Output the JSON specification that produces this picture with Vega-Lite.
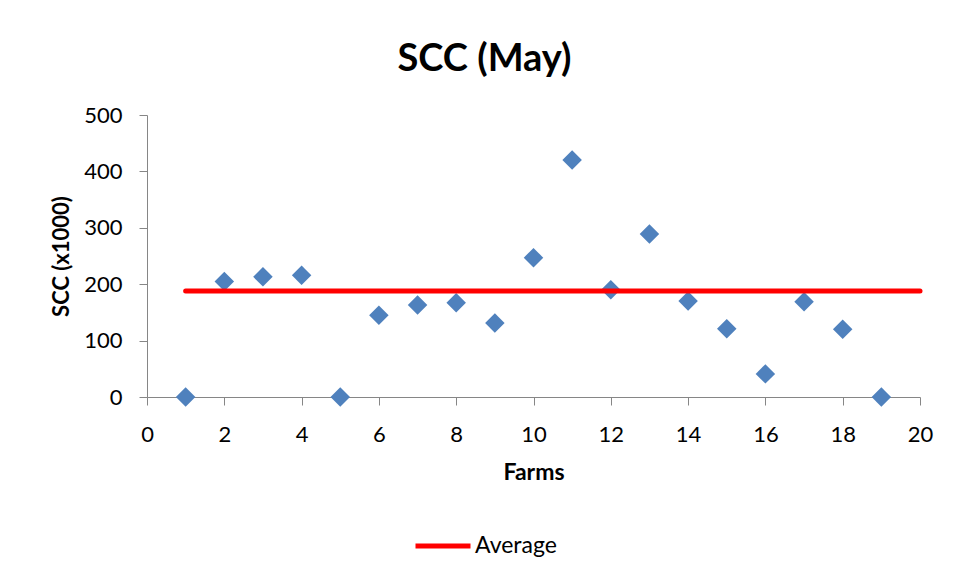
{
  "$schema": "https://vega.github.io/schema/vega-lite/v6.json",
  "autosize": "none",
  "width": 773,
  "height": 282,
  "padding": {"left": 147, "top": 115, "right": 33, "bottom": 180},
  "background": "white",
  "config": {
    "view": {"stroke": null},
    "font": "Lato",
    "axis": {"grid": false, "domainColor": "#868686", "tickColor": "#868686", "tickSize": 8, "labelColor": "#000000", "titleColor": "#000000", "labelFont": "Lato", "titleFont": "Lato"}
  },
  "title": {"text": "SCC (May)", "fontSize": 38, "fontWeight": "bold", "font": "Lato", "color": "#000000", "anchor": "middle", "dx": -49, "offset": 25},
  "datasets": {
    "scc": [
      {"farm": 1, "scc": 0},
      {"farm": 2, "scc": 205},
      {"farm": 3, "scc": 213},
      {"farm": 4, "scc": 216},
      {"farm": 5, "scc": 0},
      {"farm": 6, "scc": 145},
      {"farm": 7, "scc": 163},
      {"farm": 8, "scc": 167},
      {"farm": 9, "scc": 131},
      {"farm": 10, "scc": 247},
      {"farm": 11, "scc": 420},
      {"farm": 12, "scc": 190},
      {"farm": 13, "scc": 289},
      {"farm": 14, "scc": 170},
      {"farm": 15, "scc": 121},
      {"farm": 16, "scc": 41},
      {"farm": 17, "scc": 169},
      {"farm": 18, "scc": 120},
      {"farm": 19, "scc": 0}
    ],
    "avg": [
      {"farm": 1, "scc": 188, "series": "Average"},
      {"farm": 20, "scc": 188, "series": "Average"}
    ]
  },
  "layer": [
    {
      "data": {"name": "scc"},
      "mark": {"type": "point", "shape": "diamond", "filled": true, "size": 380, "color": "#4F81BD", "opacity": 1},
      "encoding": {
        "x": {"field": "farm", "type": "quantitative", "scale": {"domain": [0, 20], "nice": false}, "axis": {"values": [0,2,4,6,8,10,12,14,16,18,20], "title": "Farms", "labelFontSize": 22, "titleFontSize": 23, "titleFontWeight": "bold", "labelPadding": 19, "titlePadding": 16, "labelFlush": false}},
        "y": {"field": "scc", "type": "quantitative", "scale": {"domain": [0, 500], "nice": false}, "axis": {"values": [0,100,200,300,400,500], "title": "SCC (x1000)", "labelFontSize": 22, "titleFontSize": 22, "titleFontWeight": "bold", "labelPadding": 17, "titlePadding": 10}}
      }
    },
    {
      "data": {"name": "avg"},
      "mark": {"type": "line", "strokeWidth": 5, "strokeCap": "round"},
      "encoding": {
        "x": {"field": "farm", "type": "quantitative"},
        "y": {"field": "scc", "type": "quantitative"},
        "color": {"field": "series", "type": "nominal", "scale": {"range": ["#FF0000"]}, "legend": {"title": null, "orient": "none", "legendX": 266, "legendY": 401, "symbolType": "stroke", "symbolStrokeWidth": 5, "symbolSize": 3025, "labelFontSize": 23, "labelFont": "Lato", "labelColor": "#000000", "labelOffset": 2}}
      }
    }
  ]
}
